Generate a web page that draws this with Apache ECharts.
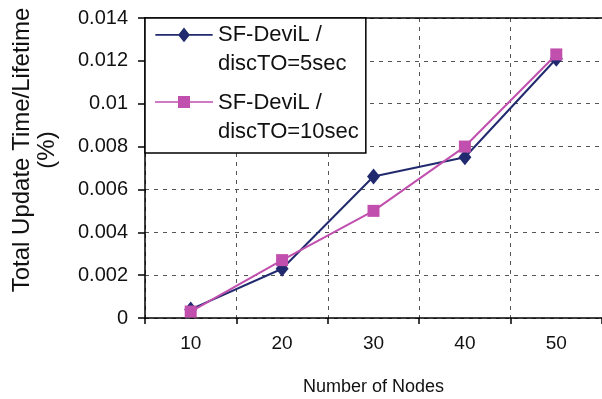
<!DOCTYPE html>
<html>
<head>
<meta charset="utf-8">
<script src="https://cdn.jsdelivr.net/npm/echarts@6/dist/echarts.min.js"></script>
<style>
  html, body { margin: 0; padding: 0; background: #fff; }
  #chart { width: 602px; height: 399px; }
</style>
</head>
<body>
<div id="chart"></div>
<script>
// Node counts on the x axis
const nodes = ['10', '20', '30', '40', '50'];
// Total update time / lifetime (%) for each discovery timeout
const disc5 = [0.0004, 0.0023, 0.0066, 0.0075, 0.0121];
const disc10 = [0.0003, 0.0027, 0.0050, 0.0080, 0.0123];
const seriesNames = ['SF-DeviL /\ndiscTO=5sec', 'SF-DeviL /\ndiscTO=10sec'];
const yTicks = ['0', '0.002', '0.004', '0.006', '0.008', '0.01', '0.012', '0.014'];

const FONT = 'Liberation Sans, Arial, sans-serif';
const NAVY = '#212a6e';
const MAGENTA = '#c04fae';

// Legend icons: a line with the series marker sitting at the top of a 58x43 box,
// so the marker lines up with the first row of the two-row legend text.
// A hair-sized dot in the bottom corner keeps the box at full size.
const ICON_DIAMOND = 'path://M0,6.2H58V7.8H0Z M29,-0.5L35,7L29,14.5L23,7Z M57.95,42.95H58V43H57.95Z';
const ICON_SQUARE = 'path://M0,6.2H58V7.8H0Z M23,1H35V13H23Z M57.95,42.95H58V43H57.95Z';

const chart = echarts.init(document.getElementById('chart'), null, { renderer: 'canvas' });

chart.setOption({
  animation: false,
  backgroundColor: '#fff',
  grid: { left: 145, right: 0, top: 18, bottom: 81, containLabel: false, outerBoundsMode: 'none' },
  legend: {
    left: 145, top: 18,
    orient: 'vertical',
    backgroundColor: '#fff',
    borderColor: '#000',
    borderWidth: 1.5,
    borderRadius: 0,
    padding: [2, 7, 7, 10],
    itemGap: 10,
    itemWidth: 58,
    itemHeight: 43,
    textStyle: { fontFamily: FONT, fontSize: 22, color: '#111', lineHeight: 29 },
    data: [
      { name: seriesNames[0], icon: ICON_DIAMOND },
      { name: seriesNames[1], icon: ICON_SQUARE }
    ]
  },
  xAxis: [{
    type: 'category',
    data: nodes,
    boundaryGap: true,
    name: 'Number of Nodes',
    nameLocation: 'middle',
    nameGap: 60,
    nameTextStyle: { fontFamily: FONT, fontSize: 18, color: '#111' },
    axisLine: { lineStyle: { color: '#000', width: 1.5 } },
    axisTick: { show: true, length: 6, lineStyle: { color: '#000', width: 1.5 } },
    axisLabel: { fontFamily: FONT, fontSize: 19, color: '#111', margin: 16 },
    splitLine: { show: true, lineStyle: { color: '#555', type: [4, 5], width: 1 } }
  }, {
    type: 'category',
    data: nodes,
    position: 'top',
    axisLine: { lineStyle: { color: '#000', width: 1.5 } },
    axisTick: { show: false },
    axisLabel: { show: false },
    splitLine: { show: false }
  }],
  yAxis: {
    type: 'value',
    min: 0, max: 0.014, interval: 0.002,
    name: 'Total Update Time/Lifetime\n(%)',
    nameLocation: 'middle',
    nameRotate: 90,
    nameGap: 85,
    nameTextStyle: { fontFamily: FONT, fontSize: 24, color: '#111', lineHeight: 25, padding: [0, 0, 0, 36] },
    axisLine: { show: true, lineStyle: { color: '#000', width: 1.5 } },
    axisTick: { show: true, length: 7, lineStyle: { color: '#000', width: 1.5 } },
    axisLabel: {
      fontFamily: FONT, fontSize: 20, color: '#111', margin: 17,
      formatter: (v) => yTicks[Math.round(v / 0.002)]
    },
    splitLine: { show: true, lineStyle: { color: '#555', type: [4, 5], width: 1 } }
  },
  series: [{
    name: seriesNames[0],
    type: 'line',
    data: disc5,
    symbol: 'diamond',
    symbolSize: [13, 16],
    lineStyle: { color: NAVY, width: 2 },
    itemStyle: { color: NAVY },
    z: 3
  }, {
    name: seriesNames[1],
    type: 'line',
    data: disc10,
    symbol: 'rect',
    symbolSize: 12,
    lineStyle: { color: MAGENTA, width: 2 },
    itemStyle: { color: MAGENTA },
    z: 4
  }]
});
</script>
</body>
</html>
